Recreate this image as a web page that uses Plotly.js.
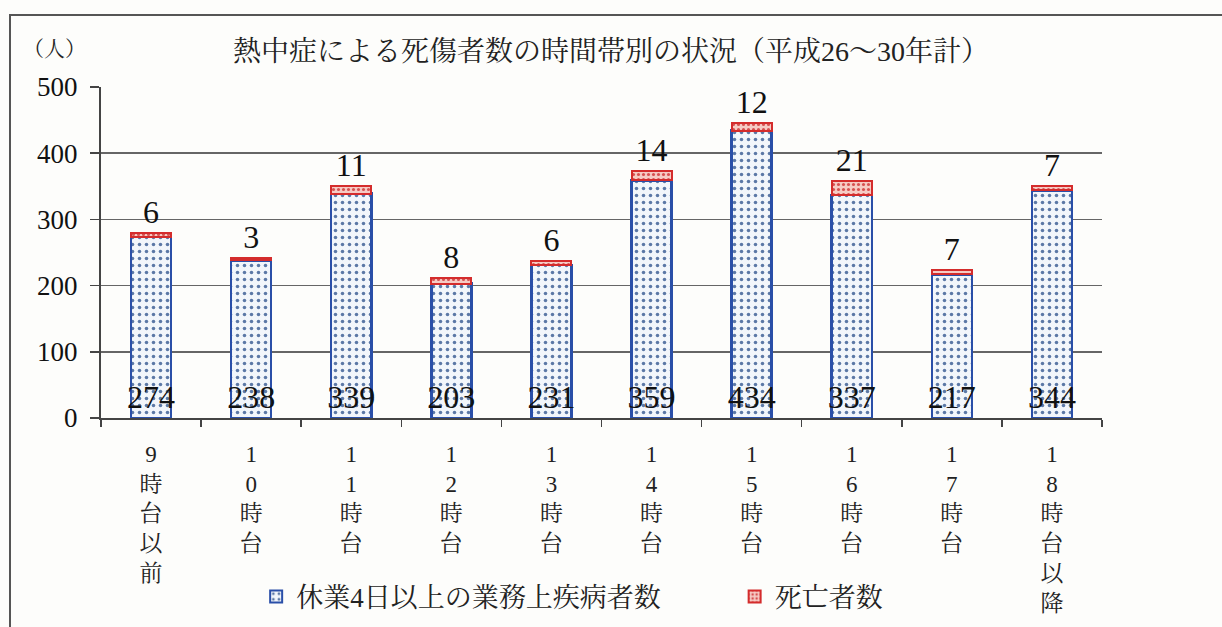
<!DOCTYPE html>
<html><head><meta charset="utf-8">
<script src="https://cdn.plot.ly/plotly-3.0.1.min.js"></script>
<style>
html,body{margin:0;padding:0;background:#fdfdfb;overflow:hidden;}
#frame{position:absolute;left:9px;top:14px;width:1240px;height:640px;border:2px solid #555;border-bottom:none;box-sizing:border-box;}
#chart{position:absolute;left:0;top:0;width:1222px;height:627px;}
</style></head>
<body>
<div id="frame"></div>
<div id="chart"></div>
<script>
const categories = ["9時台以前","10時台","11時台","12時台","13時台","14時台","15時台","16時台","17時台","18時台以降"];
const tickLabels = ["9<br>時<br>台<br>以<br>前","1<br>0<br>時<br>台","1<br>1<br>時<br>台","1<br>2<br>時<br>台","1<br>3<br>時<br>台","1<br>4<br>時<br>台","1<br>5<br>時<br>台","1<br>6<br>時<br>台","1<br>7<br>時<br>台","1<br>8<br>時<br>台<br>以<br>降"];
const injured = [274,238,339,203,231,359,434,337,217,344];
const deaths = [6,3,11,8,6,14,12,21,7,7];
const seriesNames = ["休業4日以上の業務上疾病者数","死亡者数"];
const yTicks = [0,100,200,300,400,500];

const FONT = "'Liberation Serif','Noto Serif CJK JP','Noto Sans CJK JP',serif";

const traces = [
 {type:'bar', x:categories, y:injured, name:seriesNames[0], legend:'legend',
  text:injured.map(String), textposition:'inside', insidetextanchor:'start',
  constraintext:'none', textangle:0,
  insidetextfont:{family:FONT,size:32,color:'#111'},
  marker:{color:'#f2f6fb', line:{color:'#2a4fa8',width:2.5},
    pattern:{shape:'.', fgcolor:'#5b78a6', bgcolor:'#f2f6fb', size:7, solidity:0.2}},
  hoverinfo:'none'},
 {type:'bar', x:categories, y:deaths, name:seriesNames[1], legend:'legend2',
  text:deaths.map(String), textposition:'outside', constraintext:'none', textangle:0,
  outsidetextfont:{family:FONT,size:32,color:'#111'},
  cliponaxis:false,
  marker:{color:'#f4b8b0', line:{color:'#d42c2c',width:2},
    pattern:{shape:'.', fgcolor:'#d65050', bgcolor:'#f6cbc4', size:5, solidity:0.3}},
  hoverinfo:'none'}
];

const legendCommon = {orientation:'h', xanchor:'left', yref:'container', y:0.048, yanchor:'middle',
   font:{family:FONT,size:27,color:'#222'}, itemsizing:'constant', bgcolor:'rgba(0,0,0,0)'};

const layout = {
 width:1222, height:627,
 paper_bgcolor:'rgba(0,0,0,0)', plot_bgcolor:'rgba(0,0,0,0)',
 margin:{l:101,r:120,t:87,b:209},
 barmode:'stack', bargap:0.6,
 showlegend:true,
 title:{text:'熱中症による死傷者数の時間帯別の状況（平成26～30年計）',
   font:{family:FONT,size:28,color:'#222'}, x:0.5, xanchor:'center', y:0.918, yanchor:'middle'},
 xaxis:{tickmode:'array', tickvals:categories, ticktext:tickLabels, automargin:false,
   tickson:'boundaries', ticks:'outside', ticklen:7, tickcolor:'#444', tickwidth:1.5,
   showline:true, linecolor:'#444', linewidth:2,
   tickfont:{family:FONT,size:23,color:'#222'}, ticklabelstandoff:14,
   showgrid:false, fixedrange:true},
 yaxis:{range:[0,500], tickmode:'array', tickvals:yTicks, automargin:false,
   ticks:'outside', ticklen:9, tickcolor:'#444', tickwidth:1.5,
   showline:true, linecolor:'#444', linewidth:2,
   showgrid:true, gridcolor:'#666', gridwidth:1.5, zeroline:false,
   tickfont:{family:FONT,size:27,color:'#111'}, ticklabelstandoff:7, fixedrange:true},
 legend: Object.assign({x:0.155}, legendCommon),
 legend2: Object.assign({x:0.633}, legendCommon),
 annotations:[{text:'（人）', xref:'paper', yref:'paper', x:-0.046, y:1.115,
   xanchor:'center', yanchor:'middle', showarrow:false,
   font:{family:FONT,size:21,color:'#222'}}]
};

Plotly.newPlot('chart', traces, layout, {displayModeBar:false, staticPlot:true});
</script>
</body></html>
